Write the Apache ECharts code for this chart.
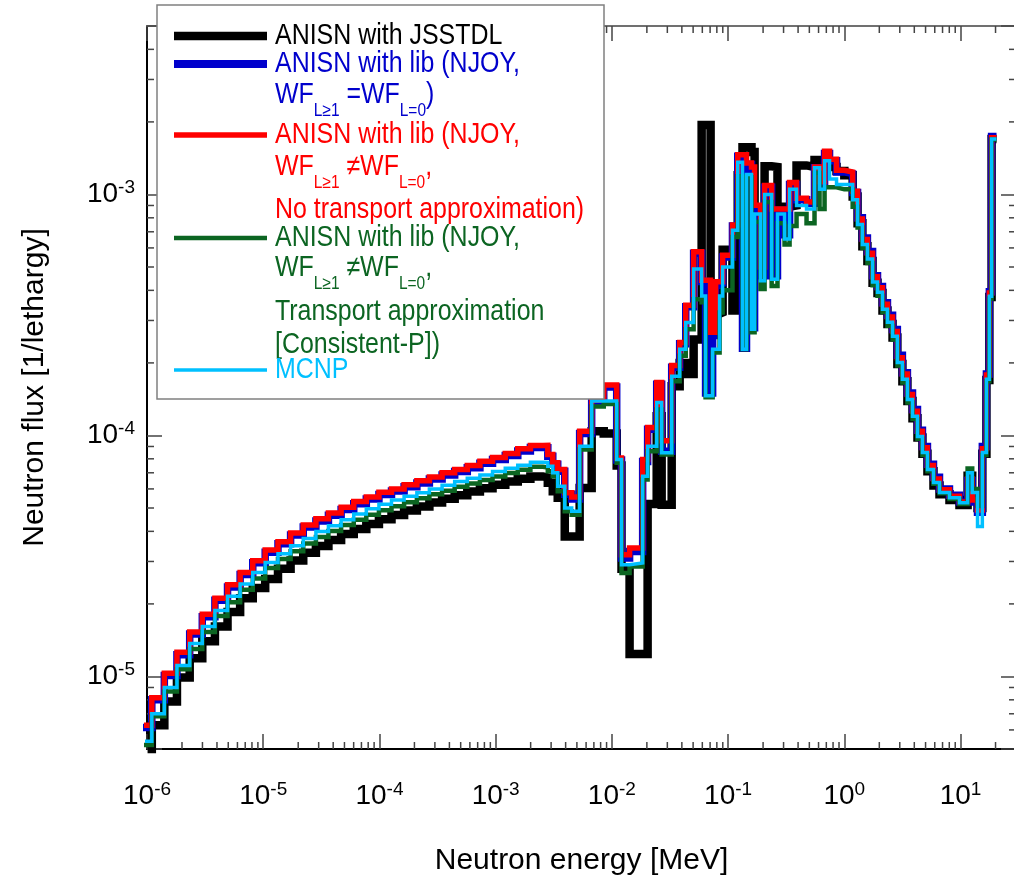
<!DOCTYPE html>
<html>
<head>
<meta charset="utf-8">
<title>Neutron flux</title>
<style>
  html, body { margin: 0; padding: 0; background: #fff; }
  #chart { width: 1014px; height: 879px; }
</style>
</head>
<body>
<div id="chart"></div>
<script src="https://cdn.jsdelivr.net/npm/echarts@6/dist/echarts.min.js"></script>
<script>
// group boundaries [MeV], 107 edges -> 106 groups
const edges = [
  8.6e-7, 1.1e-6, 1.41e-6, 1.81e-6, 2.33e-6, 2.99e-6, 3.84e-6, 4.93e-6, 6.33e-6, 8.13e-6,
  1.04e-5, 1.34e-5, 1.72e-5, 2.21e-5, 2.84e-5, 3.64e-5, 4.68e-5, 6.01e-5, 7.71e-5, 9.90e-5,
  1.27e-4, 1.63e-4, 2.10e-4, 2.69e-4, 3.46e-4, 4.44e-4, 5.70e-4, 7.32e-4, 9.40e-4, 1.21e-3,
  1.55e-3, 1.99e-3,
  2.55e-3, 2.81e-3, 3.10e-3, 3.42e-3, 3.93e-3, 4.51e-3, 5.28e-3, 6.70e-3, 8.51e-3, 1.10e-2,
  1.21e-2, 1.42e-2, 1.84e-2, 2.03e-2, 2.43e-2, 2.68e-2, 3.27e-2, 3.83e-2, 4.32e-2,
  5.05e-2, 5.92e-2, 6.40e-2, 7.07e-2, 7.36e-2, 7.81e-2, 8.45e-2, 8.97e-2, 0.109, 0.121,
  0.133, 0.144, 0.159, 0.169, 0.190, 0.206, 0.237, 0.266, 0.306, 0.338,
  0.388, 0.473, 0.554, 0.612, 0.676, 0.746, 0.857, 1.00, 1.18,
  1.30, 1.43, 1.58, 1.75, 1.93, 2.13, 2.35, 2.60, 2.86, 3.16,
  3.49, 3.86, 4.26, 4.70, 5.19, 5.85, 6.59, 8.03, 9.79, 11.5,
  12.6, 14.0, 15.4, 16.7, 17.7, 18.5, 20.4
];

// flux per group [1/lethargy]
const jsstdl = [
  4.5e-6, 6.27e-6, 7.87e-6, 9.9e-6, 1.19e-5, 1.40e-5, 1.61e-5, 1.85e-5, 2.11e-5, 2.33e-5,
  2.54e-5, 2.80e-5, 3.03e-5, 3.26e-5, 3.48e-5, 3.68e-5, 3.90e-5, 4.09e-5, 4.29e-5, 4.49e-5,
  4.68e-5, 4.88e-5, 5.07e-5, 5.27e-5, 5.46e-5, 5.65e-5, 5.85e-5, 6.04e-5, 6.24e-5, 6.44e-5,
  6.61e-5, 6.76e-5,
  6.69e-5, 6.36e-5, 5.87e-5, 5.51e-5, 3.81e-5, 3.81e-5, 6.06e-5, 1.04e-4, 1.02e-4, 7.5e-5,
  2.8e-5, 1.24e-5, 1.24e-5, 5.2e-5, 1.2e-4, 5.16e-5, 1.6e-4, 2.0e-4, 1.8e-4,
  2.5e-4, 1.94e-3, 1.94e-3, 3.2e-4, 3.2e-4, 3.2e-4, 3.24e-4, 5.9e-4, 3.3e-4, 1.2e-3,
  1.57e-3, 1.57e-3, 1.5e-3, 8.5e-4, 8.5e-4, 1.31e-3, 1.3e-3, 8.9e-4, 8.9e-4, 9.0e-4,
  1.32e-3, 1.3e-3, 1.39e-3, 1.39e-3, 1.35e-3, 1.3e-3, 1.25e-3, 1.2e-3, 9.8e-4,
  7.6e-4, 6.1e-4, 5.3e-4, 4.3e-4, 3.9e-4, 3.3e-4, 2.9e-4, 2.55e-4, 1.98e-4, 1.68e-4,
  1.39e-4, 1.18e-4, 9.8e-5, 8.4e-5, 7.1e-5, 6.2e-5, 5.7e-5, 5.4e-5, 5.15e-5, 6.8e-5,
  5.6e-5, 5.0e-5, 8.4e-5, 1.7e-4, 3.75e-4, 1.70e-3
];
const njoyEqual = [
  6.14e-6, 8.0e-6, 1.01e-5, 1.23e-5, 1.50e-5, 1.77e-5, 2.07e-5, 2.35e-5, 2.65e-5, 2.96e-5,
  3.28e-5, 3.55e-5, 3.86e-5, 4.17e-5, 4.42e-5, 4.67e-5, 4.93e-5, 5.21e-5, 5.45e-5, 5.69e-5,
  5.88e-5, 6.12e-5, 6.35e-5, 6.60e-5, 6.86e-5, 7.08e-5, 7.35e-5, 7.66e-5, 7.94e-5, 8.25e-5,
  8.62e-5, 8.91e-5,
  8.9e-5, 8.2e-5, 7.6e-5, 7.1e-5, 5.7e-5, 5.45e-5, 1.02e-4, 1.38e-4, 1.59e-4, 7.9e-5,
  3.1e-5, 3.3e-5, 7.8e-5, 1.06e-4, 1.63e-4, 8.6e-5, 1.92e-4, 2.40e-4, 3.42e-4,
  5.7e-4, 4.35e-4, 1.5e-4, 1.5e-4, 2.6e-4, 4.2e-4, 4.3e-4, 5.5e-4, 7.4e-4, 1.44e-3,
  2.3e-4, 1.33e-3, 2.8e-4, 8.9e-4, 4.6e-4, 1.07e-3, 4.6e-4, 8.6e-4, 6.8e-4, 1.1e-3,
  9.5e-4, 9.2e-4, 1.29e-3, 1.1e-3, 1.48e-3, 1.38e-3, 1.24e-3, 1.22e-3, 1.02e-3,
  8.0e-4, 6.6e-4, 5.8e-4, 4.6e-4, 4.15e-4, 3.55e-4, 3.15e-4, 2.75e-4, 2.15e-4, 1.82e-4,
  1.5e-4, 1.28e-4, 1.05e-4, 9.0e-5, 7.6e-5, 6.7e-5, 6.0e-5, 5.65e-5, 5.3e-5, 6.5e-5,
  5.3e-5, 4.8e-5, 9.0e-5, 1.8e-4, 3.95e-4, 1.74e-3
];
const njoyNoTr = [
  6.27e-6, 8.16e-6, 1.03e-5, 1.26e-5, 1.53e-5, 1.81e-5, 2.11e-5, 2.40e-5, 2.70e-5, 3.02e-5,
  3.35e-5, 3.62e-5, 3.94e-5, 4.25e-5, 4.51e-5, 4.77e-5, 5.03e-5, 5.32e-5, 5.56e-5, 5.81e-5,
  6.00e-5, 6.24e-5, 6.48e-5, 6.73e-5, 7.00e-5, 7.22e-5, 7.50e-5, 7.82e-5, 8.10e-5, 8.42e-5,
  8.80e-5, 9.09e-5,
  9.1e-5, 8.34e-5, 7.7e-5, 7.22e-5, 5.78e-5, 5.56e-5, 1.04e-4, 1.40e-4, 1.62e-4, 8.07e-5,
  3.2e-5, 3.41e-5, 7.95e-5, 1.08e-4, 1.66e-4, 9.5e-5, 1.95e-4, 2.43e-4, 3.47e-4,
  5.78e-4, 4.41e-4, 4.41e-4, 2.68e-4, 2.68e-4, 4.34e-4, 4.34e-4, 5.6e-4, 7.47e-4, 1.46e-3,
  1.46e-3, 1.35e-3, 1.3e-3, 9.03e-4, 5.0e-4, 1.09e-3, 8.7e-4, 8.7e-4, 8.7e-4, 1.12e-3,
  9.64e-4, 9.3e-4, 1.30e-3, 1.13e-3, 1.51e-3, 1.4e-3, 1.26e-3, 1.24e-3, 1.03e-3,
  7.9e-4, 6.5e-4, 5.7e-4, 4.55e-4, 4.1e-4, 3.5e-4, 3.1e-4, 2.7e-4, 2.1e-4, 1.8e-4,
  1.48e-4, 1.26e-4, 1.04e-4, 8.9e-5, 7.5e-5, 6.6e-5, 5.95e-5, 5.6e-5, 5.3e-5, 6.6e-5,
  5.4e-5, 4.9e-5, 8.8e-5, 1.78e-4, 3.9e-4, 1.72e-3
];
const njoyTr = [
  5.2e-6, 6.84e-6, 8.66e-6, 1.07e-5, 1.30e-5, 1.53e-5, 1.78e-5, 2.03e-5, 2.29e-5, 2.55e-5,
  2.82e-5, 3.07e-5, 3.31e-5, 3.56e-5, 3.79e-5, 4.01e-5, 4.25e-5, 4.47e-5, 4.69e-5, 4.89e-5,
  5.08e-5, 5.28e-5, 5.49e-5, 5.70e-5, 5.9e-5, 6.12e-5, 6.32e-5, 6.54e-5, 6.76e-5, 6.98e-5,
  7.21e-5, 7.41e-5,
  7.36e-5, 7.1e-5, 6.77e-5, 5.87e-5, 4.85e-5, 4.69e-5, 8.75e-5, 1.32e-4, 1.35e-4, 7.7e-5,
  2.69e-5, 2.86e-5, 6.56e-5, 8.6e-5, 1.28e-4, 8.34e-5, 1.68e-4, 2.14e-4, 2.76e-4,
  3.67e-4, 3.57e-4, 1.44e-4, 1.44e-4, 2.21e-4, 2.21e-4, 3.24e-4, 4.0e-4, 6.66e-4, 1.19e-3,
  2.28e-4, 1.18e-3, 2.68e-4, 7.7e-4, 4.05e-4, 9.3e-4, 4.17e-4, 7.6e-4, 6.2e-4, 7.4e-4,
  8.3e-4, 7.6e-4, 1.23e-3, 8.7e-4, 1.07e-3, 1.07e-3, 1.05e-3, 1.05e-3, 8.9e-4,
  7.3e-4, 6.0e-4, 5.2e-4, 4.2e-4, 3.8e-4, 3.25e-4, 2.85e-4, 2.5e-4, 1.95e-4, 1.66e-4,
  1.37e-4, 1.17e-4, 9.7e-5, 8.3e-5, 7.1e-5, 6.3e-5, 5.75e-5, 5.45e-5, 5.2e-5, 7.3e-5,
  6.0e-5, 5.1e-5, 8.3e-5, 1.68e-4, 3.7e-4, 1.69e-3
];
const mcnp = [
  5.38e-6, 7.0e-6, 9.0e-6, 1.11e-5, 1.37e-5, 1.61e-5, 1.88e-5, 2.15e-5, 2.42e-5, 2.70e-5,
  2.97e-5, 3.23e-5, 3.49e-5, 3.74e-5, 3.99e-5, 4.22e-5, 4.47e-5, 4.72e-5, 4.96e-5, 5.18e-5,
  5.4e-5, 5.6e-5, 5.78e-5, 6.0e-5, 6.21e-5, 6.44e-5, 6.64e-5, 6.86e-5, 7.08e-5, 7.31e-5,
  7.52e-5, 7.74e-5,
  7.73e-5, 7.45e-5, 7.0e-5, 6.16e-5, 5.0e-5, 4.85e-5, 9.03e-5, 1.39e-4, 1.39e-4, 7.95e-5,
  2.91e-5, 2.96e-5, 6.77e-5, 9.03e-5, 1.37e-4, 8.47e-5, 1.76e-4, 2.28e-4, 2.94e-4,
  4.9e-4, 3.79e-4, 1.46e-4, 1.46e-4, 2.28e-4, 2.28e-4, 3.79e-4, 5.0e-4, 7.1e-4, 1.36e-3,
  2.28e-4, 1.21e-3, 2.76e-4, 8.3e-4, 4.38e-4, 1.0e-3, 4.45e-4, 8.3e-4, 6.53e-4, 1.05e-3,
  8.99e-4, 8.7e-4, 1.29e-3, 1.05e-3, 1.38e-3, 1.16e-3, 1.1e-3, 1.1e-3, 9.5e-4,
  7.5e-4, 6.2e-4, 5.4e-4, 4.33e-4, 3.93e-4, 3.34e-4, 2.95e-4, 2.58e-4, 2.01e-4, 1.71e-4,
  1.41e-4, 1.2e-4, 9.9e-5, 8.5e-5, 7.22e-5, 6.38e-5, 5.8e-5, 5.52e-5, 5.26e-5, 7.0e-5,
  5.8e-5, 4.19e-5, 8.5e-5, 1.71e-4, 3.78e-4, 1.70e-3
];

const X_MIN = 1e-6, X_MAX = 30;
const Y_MIN = 5e-6, Y_MAX = 5e-3;
const minorMant = [2, 3, 4, 5, 6, 7, 8, 9];
const xDecades = [-6, -5, -4, -3, -2, -1, 0, 1];
const yDecades = [-6, -5, -4, -3];

const FONT = '"Liberation Sans", Arial, Helvetica, sans-serif';
const BLACK = '#000000', BLUE = '#0000cc', RED = '#ff0000', GREEN = '#0c6522', CYAN = '#00c0ff';

var dom = document.getElementById('chart');
var myChart = echarts.init(dom, null, { renderer: 'canvas' });

// histogram -> step points (value held over [E_i, E_i+1])
function toSteps(vals) {
  var pts = vals.map(function (v, i) { return [edges[i], v]; });
  pts.push([edges[edges.length - 1], vals[vals.length - 1]]);
  return pts;
}

var minorX = [], minorY = [];
xDecades.forEach(function (d) {
  minorMant.forEach(function (m) {
    var v = m * Math.pow(10, d);
    if (v > X_MIN && v < X_MAX) minorX.push([v, Y_MIN]);
  });
});
yDecades.forEach(function (d) {
  minorMant.forEach(function (m) {
    var v = m * Math.pow(10, d);
    if (v > Y_MIN * 1.0001 && v < Y_MAX * 0.9999) minorY.push([X_MIN, v]);
  });
});

function powLabel(v) {
  var e = Math.log10(v), r = Math.round(e);
  if (Math.abs(e - r) > 1e-6) return '';
  return '{b|10}{s|' + r + '}';
}
var labelRich = {
  b: { fontSize: 28, fontFamily: FONT, color: '#000', lineHeight: 32 },
  s: { fontSize: 19, fontFamily: FONT, color: '#000', lineHeight: 16, verticalAlign: 'top' }
};
var tickStyle = { color: '#444', width: 1.5 };

function stepSeries(name, vals, color, width) {
  return {
    name: name, type: 'line', step: 'end', data: toSteps(vals),
    showSymbol: false, symbol: 'none', silent: true,
    lineStyle: { color: color, width: width, join: 'miter', cap: 'butt' }
  };
}

function tickLine(x1, y1, x2, y2) {
  return { type: 'line', shape: { x1: x1, y1: y1, x2: x2, y2: y2 }, style: { stroke: '#444', lineWidth: 1.5 } };
}

// legend, drawn as graphics so the sub-scripted labels can be kept
var n = function (c) { return { fontSize: 29, fontFamily: FONT, fill: c, lineHeight: 50, verticalAlign: 'middle' }; };
var sub = function (c) { return { fontSize: 18, fontFamily: FONT, fill: c, lineHeight: 18, verticalAlign: 'bottom' }; };
function legendText(y, str, c) {
  return {
    type: 'text', x: 275, y: y - 25, scaleX: 0.86, z: 101,
    style: { text: str, verticalAlign: 'top', align: 'left', rich: { n: n(c), sub: sub(c) } }
  };
}
function legendLine(y, c, w) {
  return { type: 'line', z: 101, shape: { x1: 174, y1: y, x2: 267, y2: y }, style: { stroke: c, lineWidth: w } };
}
var legendEls = [
  { type: 'rect', z: 100, shape: { x: 157, y: 5, width: 447, height: 394 }, style: { fill: '#fff', stroke: '#808080', lineWidth: 1.5 } },
  legendLine(36, BLACK, 8.5),
  legendText(36, '{n|ANISN with JSSTDL}', BLACK),
  legendLine(64, BLUE, 8),
  legendText(64, '{n|ANISN with lib (NJOY,}', BLUE),
  legendText(95, '{n|WF}{sub|L≥1}{n| =WF}{sub|L=0}{n|)}', BLUE),
  legendLine(135, RED, 5.5),
  legendText(135, '{n|ANISN with lib (NJOY,}', RED),
  legendText(167, '{n|WF}{sub|L≥1}{n| ≠WF}{sub|L=0}{n|,}', RED),
  legendText(210, '{n|No transport approximation)}', RED),
  legendLine(238, GREEN, 4.5),
  legendText(238, '{n|ANISN with lib (NJOY,}', GREEN),
  legendText(268, '{n|WF}{sub|L≥1}{n| ≠WF}{sub|L=0}{n|,}', GREEN),
  legendText(312, '{n|Transport approximation}', GREEN),
  legendText(345, '{n|[Consistent-P])}', GREEN),
  legendLine(370, CYAN, 3.5),
  legendText(370, '{n|MCNP}', CYAN)
];

var option = {
  animation: false,
  backgroundColor: '#fff',
  grid: { left: 147, top: 26, width: 869, height: 723, show: false, outerBoundsMode: 'none', containLabel: false },
  xAxis: [
    {
      type: 'log', logBase: 10, min: X_MIN, max: X_MAX, position: 'bottom',
      name: 'Neutron energy [MeV]', nameLocation: 'middle', nameGap: 97,
      nameTextStyle: { fontSize: 30, fontFamily: FONT, color: '#000' },
      axisLine: { lineStyle: { color: '#000', width: 2 } },
      axisTick: { inside: true, length: 15, lineStyle: tickStyle },
      axisLabel: { formatter: powLabel, rich: labelRich, margin: 31 },
      splitLine: { show: false }
    },
    {
      type: 'log', logBase: 10, min: X_MIN, max: X_MAX, position: 'top',
      axisLine: { lineStyle: { color: '#707070', width: 2 } },
      axisTick: { inside: true, length: 15, lineStyle: tickStyle },
      axisLabel: { show: false }, splitLine: { show: false }
    }
  ],
  yAxis: [
    {
      type: 'log', logBase: 10, min: Y_MIN, max: Y_MAX, position: 'left',
      name: 'Neutron flux [1/lethargy]', nameLocation: 'middle', nameGap: 97,
      nameTextStyle: { fontSize: 30, fontFamily: FONT, color: '#000' },
      axisLine: { lineStyle: { color: '#000', width: 2 } },
      axisTick: { inside: true, length: 15, lineStyle: tickStyle },
      axisLabel: { formatter: powLabel, rich: labelRich, margin: 12 },
      splitLine: { show: false }
    },
    {
      type: 'log', logBase: 10, min: Y_MIN, max: Y_MAX, position: 'right',
      axisLine: { lineStyle: { color: '#707070', width: 2 } },
      axisTick: { inside: true, length: 15, lineStyle: tickStyle },
      axisLabel: { show: false }, splitLine: { show: false }
    }
  ],
  series: [
    stepSeries('ANISN with JSSTDL', jsstdl, BLACK, 8.5),
    stepSeries('ANISN with lib (NJOY, WF L>=1 = WF L=0)', njoyEqual, BLUE, 7.5),
    stepSeries('ANISN with lib (NJOY, no transport approximation)', njoyNoTr, RED, 5.5),
    stepSeries('ANISN with lib (NJOY, transport approximation)', njoyTr, GREEN, 4.5),
    stepSeries('MCNP', mcnp, CYAN, 3.5),
    {
      type: 'custom', silent: true, clip: false, data: minorX,
      renderItem: function (params, api) {
        var b = api.coord([api.value(0), Y_MIN]);
        var t = api.coord([api.value(0), Y_MAX]);
        return { type: 'group', children: [tickLine(b[0], b[1], b[0], b[1] - 7), tickLine(t[0], t[1], t[0], t[1] + 7)] };
      }
    },
    {
      type: 'custom', silent: true, clip: false, data: minorY,
      renderItem: function (params, api) {
        var l = api.coord([X_MIN, api.value(1)]);
        var r = api.coord([X_MAX, api.value(1)]);
        return { type: 'group', children: [tickLine(l[0], l[1], l[0] + 7, l[1]), tickLine(r[0], r[1], r[0] - 7, r[1])] };
      }
    }
  ],
  graphic: { elements: legendEls }
};

myChart.setOption(option);
window.addEventListener('resize', myChart.resize);
</script>
</body>
</html>
